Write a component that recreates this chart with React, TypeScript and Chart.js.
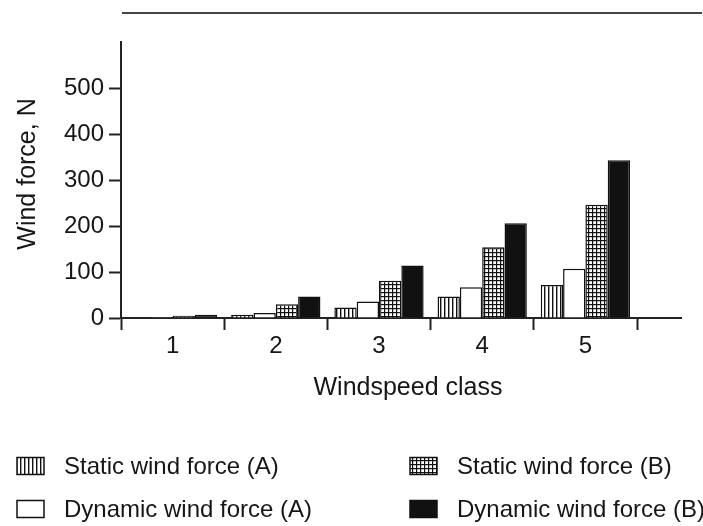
import React, { useEffect, useRef } from 'react';
import { Chart, registerables } from 'chart.js';

Chart.register(...registerables);

// ---- data ----
const categories = ['1', '2', '3', '4', '5'];
const staticA = [1, 7, 23, 47, 72];
const dynamicA = [2, 11, 36, 67, 107];
const staticB = [5, 30, 81, 154, 246];
const dynamicB = [7, 47, 114, 206, 343];
const yTickValues = [0, 100, 200, 300, 400, 500];
const seriesNames = [
  'Static wind force (A)',
  'Dynamic wind force (A)',
  'Static wind force (B)',
  'Dynamic wind force (B)',
];
const xTitle = 'Windspeed class';
const yTitle = 'Wind force, N';

const FONT = '"Liberation Sans", Arial, Helvetica, sans-serif';
const INK = '#161616';

function makeVerticalPattern(ctx: CanvasRenderingContext2D) {
  const c = document.createElement('canvas');
  c.width = 4;
  c.height = 4;
  const g = c.getContext('2d')!;
  g.fillStyle = '#fff';
  g.fillRect(0, 0, 4, 4);
  g.fillStyle = '#111';
  g.fillRect(0, 0, 1.4, 4);
  return ctx.createPattern(c, 'repeat')!;
}

function makeGridPattern(ctx: CanvasRenderingContext2D) {
  const c = document.createElement('canvas');
  c.width = 4;
  c.height = 4;
  const g = c.getContext('2d')!;
  g.fillStyle = '#fff';
  g.fillRect(0, 0, 4, 4);
  g.fillStyle = '#111';
  g.fillRect(0, 0, 1.2, 4);
  g.fillRect(0, 0, 4, 1.2);
  return ctx.createPattern(c, 'repeat')!;
}

export default function App() {
  const ref = useRef<HTMLCanvasElement | null>(null);

  useEffect(() => {
    const canvas = ref.current!;
    const ctx = canvas.getContext('2d')!;
    const vPat = makeVerticalPattern(ctx);
    const gPat = makeGridPattern(ctx);
    const fills = [vPat, '#ffffff', gPat, '#111111'];
    const seriesData = [staticA, dynamicA, staticB, dynamicB];

    const decor = {
      id: 'decor',
      afterDraw(chart: any) {
        const c = chart.ctx as CanvasRenderingContext2D;
        const area = chart.chartArea;
        const y0 = chart.scales.y.getPixelForValue(0);
        c.save();
        // x-axis extension past last category
        c.strokeStyle = '#222';
        c.lineWidth = 2;
        c.beginPath();
        c.moveTo(area.right, y0);
        c.lineTo(area.right + 45, y0);
        c.stroke();
        // top rule
        c.strokeStyle = '#444';
        c.beginPath();
        c.moveTo(area.left + 1, 13);
        c.lineTo(chart.width - 1, 13);
        c.stroke();

        // axis titles
        c.fillStyle = INK;
        c.font = `25px ${FONT}`;
        c.textAlign = 'center';
        c.textBaseline = 'middle';
        c.fillText(xTitle, 408, 388);
        c.save();
        c.translate(28, 174);
        c.rotate(-Math.PI / 2);
        c.fillText(yTitle, 0, 0);
        c.restore();

        // legend (2 x 2 grid)
        const cells = [
          { i: 0, x: 17, y: 466 },
          { i: 2, x: 410, y: 466 },
          { i: 1, x: 17, y: 509 },
          { i: 3, x: 410, y: 509 },
        ];
        c.font = `24px ${FONT}`;
        c.textBaseline = 'middle';
        c.textAlign = 'left';
        for (const cell of cells) {
          const bw = 27;
          const bh = 17;
          const bx = cell.x;
          const by = cell.y - bh / 2;
          c.fillStyle = fills[cell.i] as any;
          c.fillRect(bx, by, bw, bh);
          c.strokeStyle = '#111';
          c.lineWidth = 1.5;
          c.strokeRect(bx, by, bw, bh);
          c.fillStyle = INK;
          c.fillText(seriesNames[cell.i], bx + 47, cell.y + 1);
        }
        c.restore();
      },
    };

    const chart = new Chart(canvas, {
      type: 'bar',
      data: {
        labels: categories,
        datasets: seriesData.map((d, i) => ({
          label: seriesNames[i],
          data: d,
          backgroundColor: fills[i] as any,
          borderColor: '#111',
          borderWidth: 1.5,
          categoryPercentage: 0.865,
          barPercentage: 1.0,
        })),
      },
      options: {
        responsive: false,
        animation: false,
        devicePixelRatio: 1,
        layout: { padding: { top: 42, right: 66, left: 0, bottom: 108 } },
        plugins: {
          legend: { display: false },
          tooltip: { enabled: false },
        },
        scales: {
          x: {
            offset: true,
            grid: {
              offset: true,
              drawOnChartArea: false,
              drawTicks: true,
              tickLength: 12,
              tickWidth: 2,
              tickColor: '#222',
            },
            border: { display: true, width: 2, color: '#222' },
            ticks: {
              color: INK,
              font: { family: FONT, size: 24 },
              padding: 2,
              maxRotation: 0,
            },
            afterFit: (s: any) => {
              s.height = 100;
            },
          },
          y: {
            min: 0,
            max: 600,
            grid: {
              drawOnChartArea: false,
              drawTicks: true,
              tickLength: 12,
              tickWidth: 2,
              tickColor: (c: any) => (c.tick && c.tick.value > 500 ? 'rgba(0,0,0,0)' : '#222'),
            },
            border: { display: true, width: 2, color: '#222' },
            afterBuildTicks: (s: any) => {
              s.ticks = [...yTickValues, 600].map((v) => ({ value: v }));
            },
            ticks: {
              color: INK,
              font: { family: FONT, size: 24 },
              padding: 5,
              callback: (v: any) => (yTickValues.includes(Number(v)) ? String(v) : ''),
            },
            afterFit: (s: any) => {
              s.width = 121;
            },
          },
        },
      },
      plugins: [decor],
    });

    return () => chart.destroy();
  }, []);

  return (
    <div style={{ position: 'absolute', left: 0, top: 0, width: 703, height: 526, background: '#fff' }}>
      <canvas ref={ref} width={703} height={526} style={{ display: 'block' }} />
    </div>
  );
}
